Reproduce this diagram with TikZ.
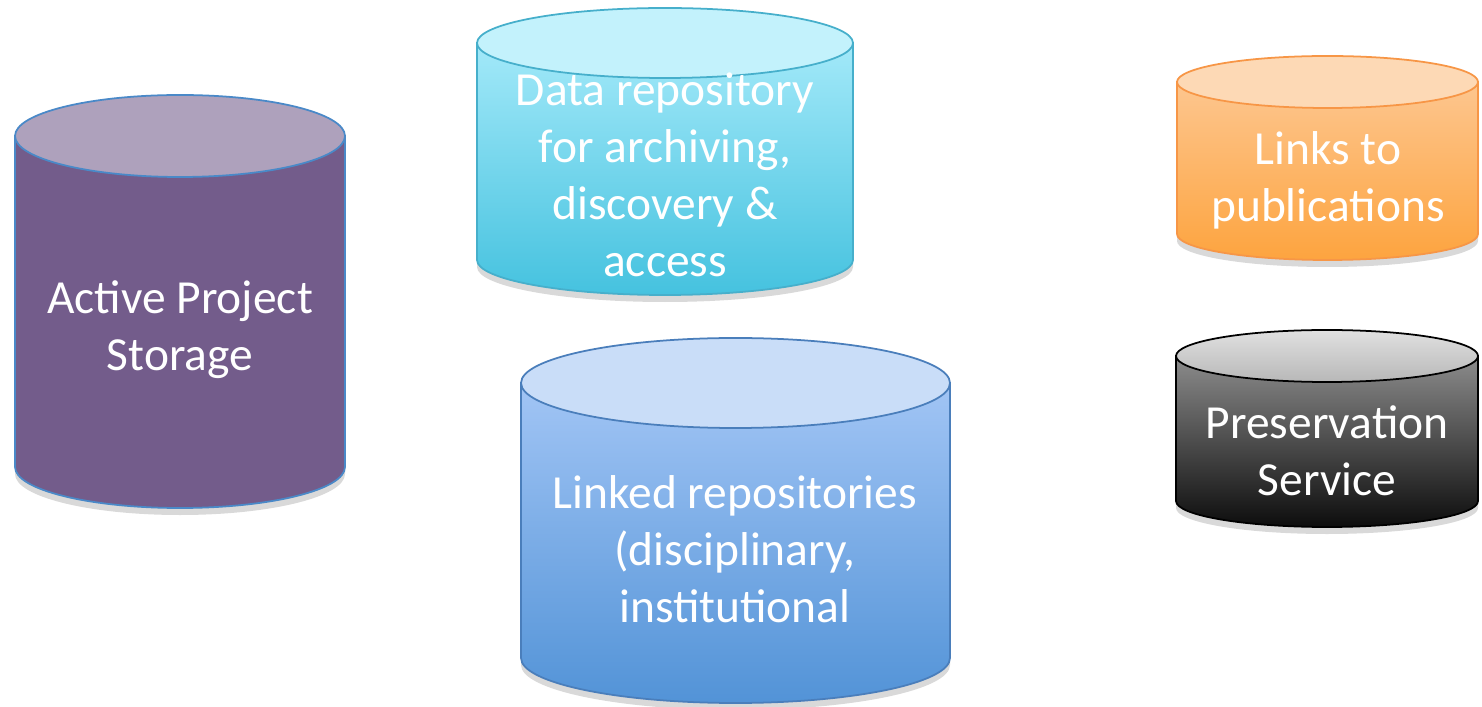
\documentclass[tikz,border=0pt]{standalone}
\usepackage{fontspec}
\setmainfont{Carlito}
\usepackage{tikz}
\usetikzlibrary{shadows}

\definecolor{activebody}{HTML}{735C8B}
\definecolor{activelid}{HTML}{AEA1BC}
\definecolor{activeline}{HTML}{4A89C8}
\definecolor{datatop}{HTML}{A3E9F9}
\definecolor{databot}{HTML}{45C2DF}
\definecolor{datalid}{HTML}{C3F2FC}
\definecolor{dataline}{HTML}{46AFCB}
\definecolor{linkedtop}{HTML}{A2C5F5}
\definecolor{linkedbot}{HTML}{5293D7}
\definecolor{linkedlid}{HTML}{C9DDF8}
\definecolor{linkedline}{HTML}{4A7EBB}
\definecolor{pubtop}{HTML}{FDC68F}
\definecolor{pubbot}{HTML}{FDA43F}
\definecolor{publid}{HTML}{FDD9B5}
\definecolor{publine}{HTML}{F79646}

\begin{document}
\begin{tikzpicture}[x=0.01cm,y=0.01cm]

% Define styles for different elements
\tikzstyle{body} = [line width=0.5pt, drop shadow={shadow xshift=0pt, shadow yshift=-0.07cm, opacity=0.3}]
\tikzstyle{lid} = [line width=0.5pt]
\tikzstyle{label} = [align=center, text=white, font=\fontsize{13.5}{16.2}\selectfont]

\useasboundingbox (0,0) rectangle (1482,706);

% Draw the cylinders
\path [body, draw=activeline, fill=activebody] (15,570) -- (15,239) arc[start angle=180, end angle=360, x radius=165, y radius=41] -- (345,570) -- cycle;
\path [lid, draw=activeline, fill=activelid] (180,570) ellipse [x radius=165, y radius=41];

\path [body, draw=dataline, top color=datatop, bottom color=databot] (477,663) -- (477,446) arc[start angle=180, end angle=360, x radius=188, y radius=35] -- (853,663) -- cycle;
\path [lid, draw=dataline, fill=datalid] (665,663) ellipse [x radius=188, y radius=35];

\path [body, draw=linkedline, top color=linkedtop, bottom color=linkedbot] (521,323) -- (521,48) arc[start angle=180, end angle=360, x radius=214.5, y radius=45] -- (950,323) -- cycle;
\path [lid, draw=linkedline, fill=linkedlid] (735.5,323) ellipse [x radius=214.5, y radius=45];

\path [body, draw=publine, top color=pubtop, bottom color=pubbot] (1177,624) -- (1177,472) arc[start angle=180, end angle=360, x radius=150.5, y radius=26] -- (1478,624) -- cycle;
\path [lid, draw=publine, fill=publid] (1327.5,624) ellipse [x radius=150.5, y radius=26];

\path [body, draw=black, top color=black!45, bottom color=black!95] (1176,350) -- (1176,205) arc[start angle=180, end angle=360, x radius=151, y radius=26] -- (1478,350) -- cycle;
\path [lid, draw=black, top color=black!12, bottom color=black!28] (1327,350) ellipse [x radius=151, y radius=26];

% Add the texts
\node (active) [label] at (180,376) {Active Project\\Storage};
\node (datarepo) [label] at (665,531) {Data repository\\for archiving,\\discovery \&\\access};
\node (linked) [label] at (735,157) {Linked repositories\\(disciplinary,\\institutional};
\node (pubs) [label] at (1328,526) {Links to\\publications};
\node (preserve) [label] at (1327,255) {Preservation\\Service};
\end{tikzpicture}
\end{document}
